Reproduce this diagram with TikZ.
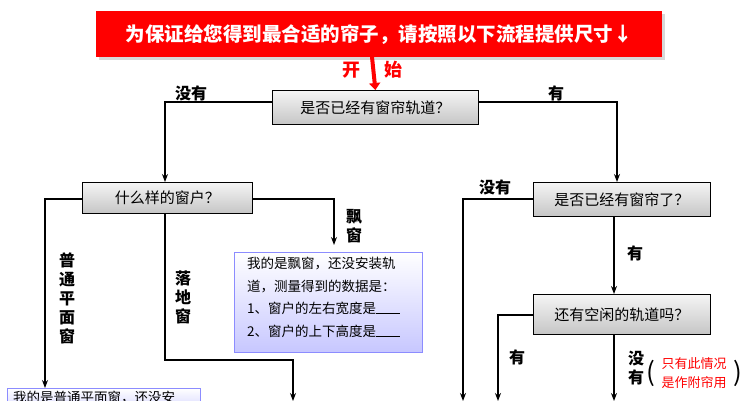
\documentclass[tikz,border=0pt]{standalone}
\usepackage{fontspec}
\setmainfont{Noto Sans CJK SC}
\usetikzlibrary{arrows.meta,shadows}
\begin{document}
\begin{tikzpicture}[x=1pt,y=-1pt,
  gbox/.style={draw=black,line width=0.8pt,top color=gray!8,bottom color=gray!45,minimum height=34pt,font=\fontsize{15}{17}\selectfont,anchor=north west,inner sep=0pt},
  bbox/.style={draw=blue!45,top color=white,bottom color=blue!22,anchor=north west,inner sep=0pt},
  conn/.style={line width=1.2pt,-{Stealth[length=8pt,width=6pt]}},
  lab/.style={font=\fontsize{16}{17}\selectfont\bfseries,inner sep=0pt},
  vlab/.style={font=\fontsize{16}{19}\selectfont\bfseries,inner sep=0pt,align=center}]
\useasboundingbox (0,0) rectangle (750,401);
\clip (0,0) rectangle (750,401);
\fill[white] (0,0) rectangle (750,401);
% title
\node[fill=red,drop shadow={opacity=0.3},minimum width=566pt,minimum height=46pt,anchor=north west,inner sep=0pt,text=white,font=\fontsize{19.5}{22}\selectfont\bfseries] (title) at (96,11) {为保证给您得到最合适的帘子，请按照以下流程提供尺寸↓};
\node[text=red,lab,font=\fontsize{18}{19}\selectfont\bfseries] (kai) at (351,70) {开};
\node[text=red,lab,font=\fontsize{18}{19}\selectfont\bfseries] (shi) at (393,70) {始};
\coordinate (st) at (372,57);
% boxes
\node[gbox,minimum width=206pt] (b1) at (272,90) {是否已经有窗帘轨道？};
\draw[red,line width=4pt,-{Triangle[length=7pt,width=11pt]}] (st) -- (b1.north);
\node[gbox,minimum width=170pt,minimum height=31pt] (b2) at (82,182) {什么样的窗户？};
\node[gbox,minimum width=177pt] (b3) at (533,182) {是否已经有窗帘了？};
\node[gbox,minimum width=177pt,minimum height=40pt] (b4) at (533,294) {还有空闲的轨道吗？};
\node[bbox,minimum width=188pt,minimum height=100pt] (p) at (234,252) {};
\node[anchor=north west,inner sep=0pt,align=left,font=\fontsize{13.5}{22.5}\selectfont] (pt) at (247,257) {我的是飘窗，还没安装轨\\道，测量得到的数据是：\\1、窗户的左右宽度是\rule{24pt}{0.6pt}\\2、窗户的上下高度是\rule{24pt}{0.6pt}};
\node[bbox,minimum width=193pt,minimum height=30pt] (q) at (7,388) {};
\node[anchor=north west,inner sep=0pt,font=\fontsize{13.5}{15}\selectfont] (qt) at (13,391) {我的是普通平面窗，还没安};
% connectors
\coordinate (e1) at (293,401);
\coordinate (e2) at (463,401);
\coordinate (e3) at (498,401);
\coordinate (e4) at (614,401);
\draw[conn] (b1.west |- 0,102) -| (b2.north -| 165,0);
\draw[conn] (b1.east |- 0,102) -| (617,182);
\draw[conn] (b2.west |- 0,199) -| (q.north -| 45,0);
\draw[conn] (b2.east |- 0,199) -| (334,245);
\draw[conn] (b2.south -| 165,0) |- (293,360) -- (e1);
\draw[conn] (b3.west |- 0,199) -| (e2);
\draw[conn] (b3.south -| 614,0) -- (b4.north -| 614,0);
\draw[conn] (b4.west |- 0,315) -| (e3);
\draw[conn] (b4.south -| 614,0) -- (e4);
% labels
\node[lab] (l1) at (191,93) {没有};
\node[lab] (l2) at (556,93) {有};
\node[vlab] (l3) at (67,298) {普\\通\\平\\面\\窗};
\node[vlab] (l4) at (183,297) {落\\地\\窗};
\node[vlab] (l5) at (354,226) {飘\\窗};
\node[lab] (l6) at (495,187) {没有};
\node[lab] (l7) at (635,253) {有};
\node[lab] (l8) at (517,357) {有};
\node[vlab] (l9) at (636,368) {没\\有};
\node[inner sep=0pt,font=\fontsize{26}{26}\selectfont] (pl) at (651,373) {(};
\node[inner sep=0pt,align=center,text=red,font=\fontsize{13}{18.5}\selectfont] (nt) at (694,373) {只有此情况\\是作附帘用};
\node[inner sep=0pt,font=\fontsize{26}{26}\selectfont] (pr) at (738,373) {)};
\end{tikzpicture}
\end{document}
